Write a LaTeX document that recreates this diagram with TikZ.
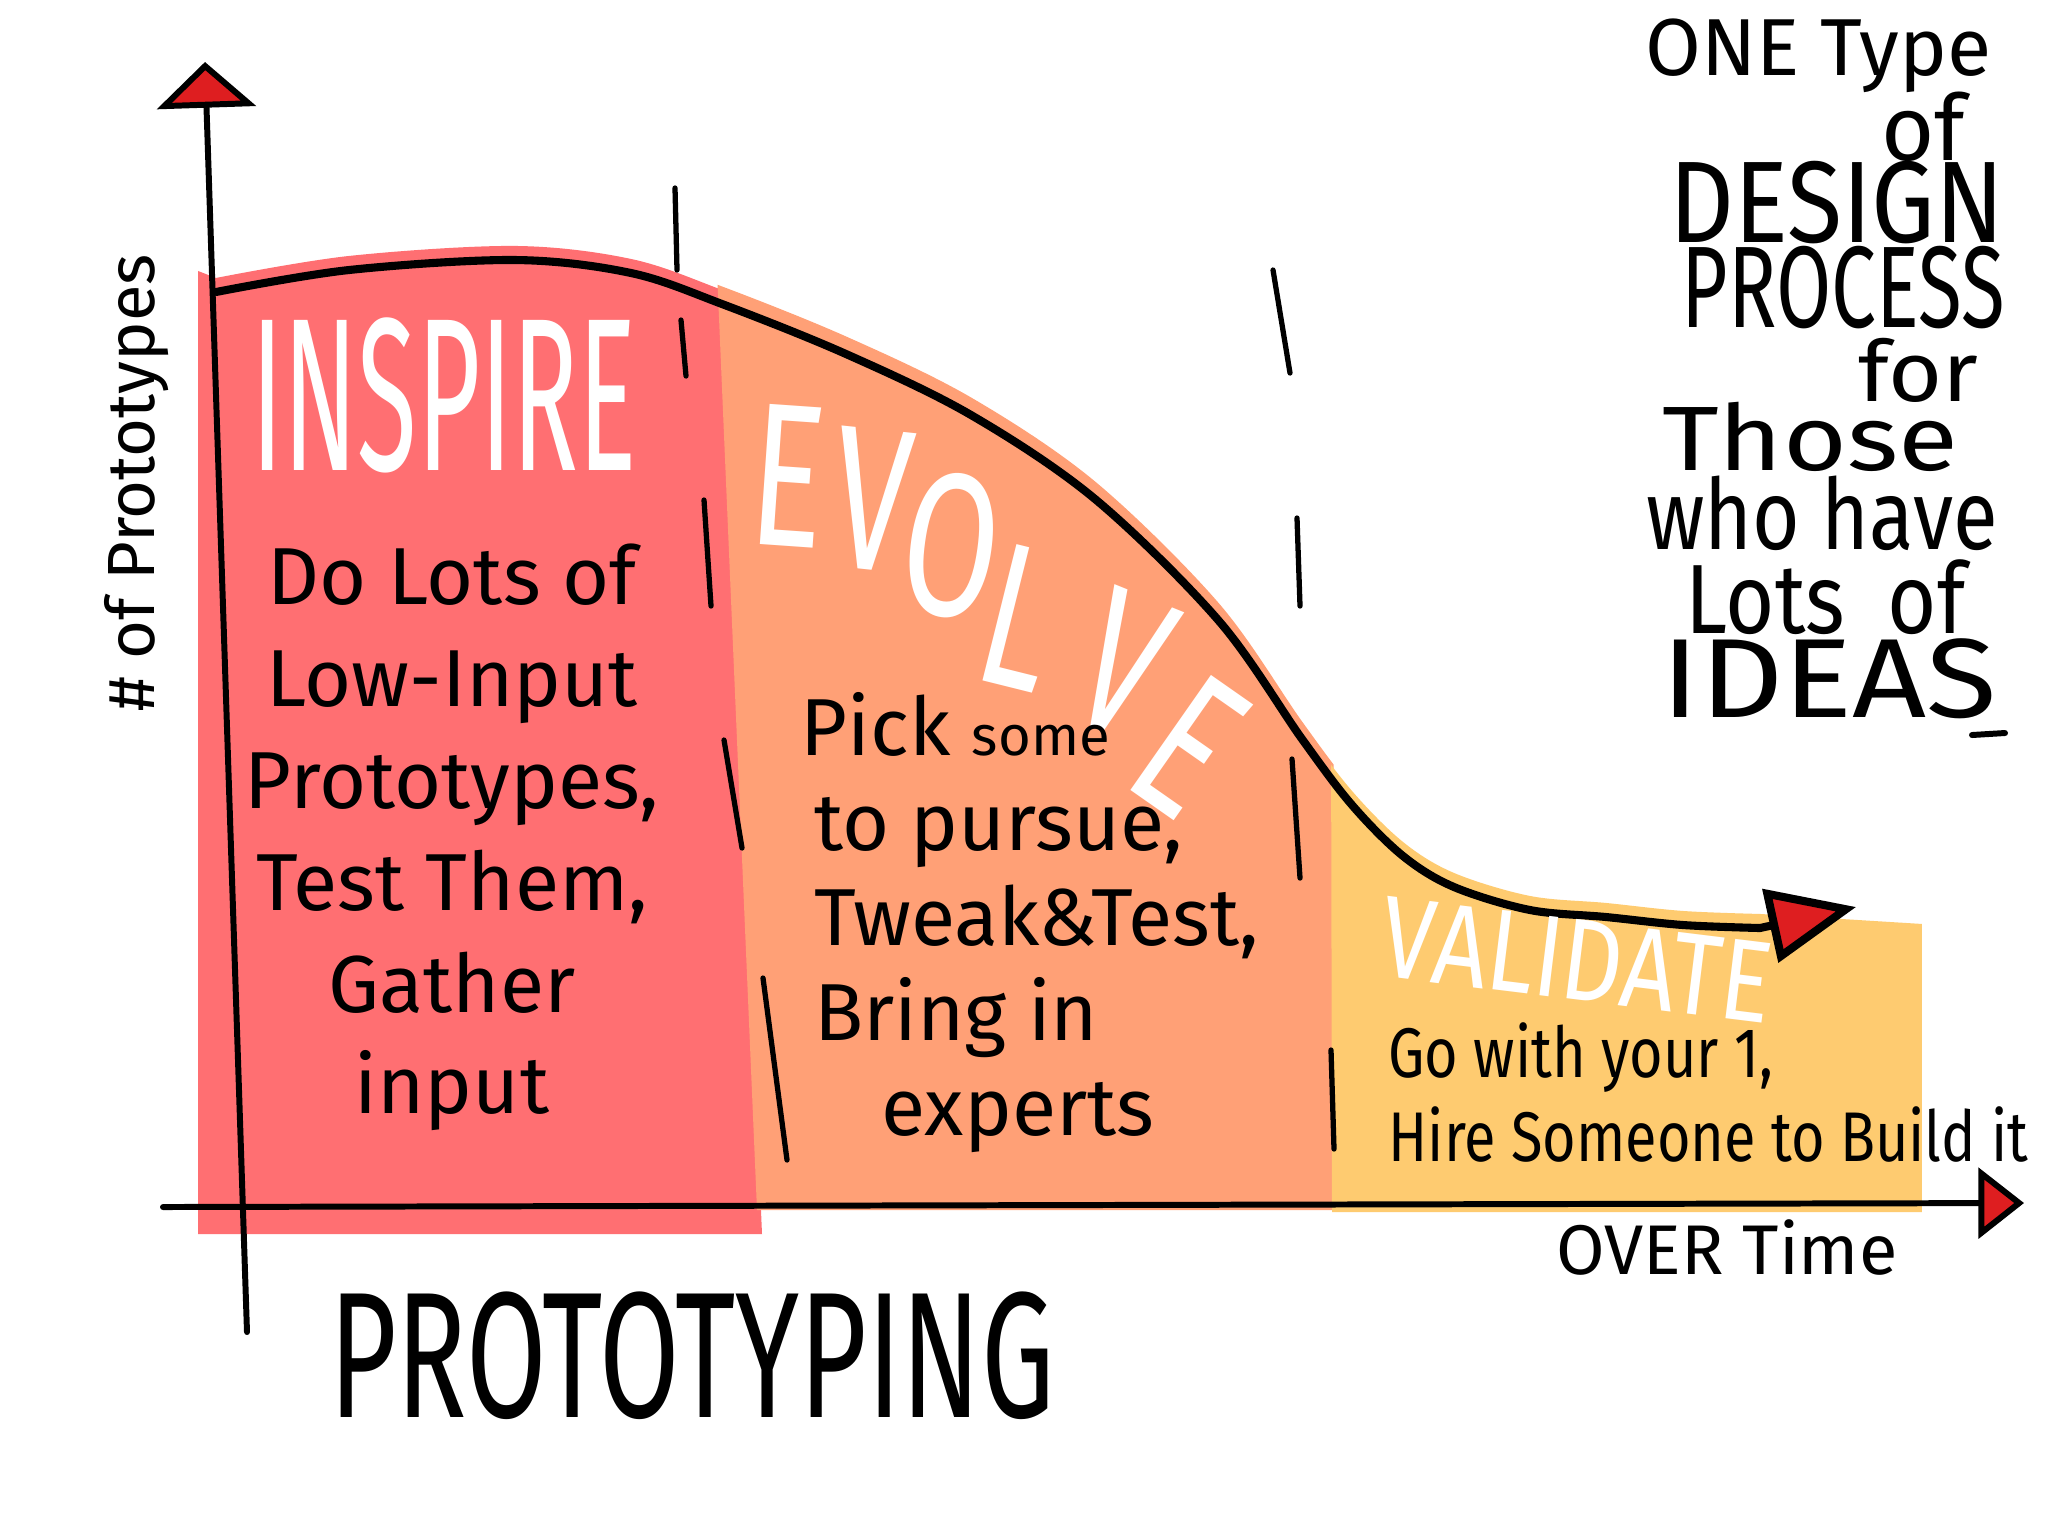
\documentclass[tikz,border=0pt]{standalone}
\usepackage{fontspec}
\setmainfont{Fira Sans}
\usepackage{tikz}
\usetikzlibrary{arrows.meta}
\definecolor{inspirered}{RGB}{255,111,114}
\definecolor{evolvesalmon}{RGB}{255,160,118}
\definecolor{validateyellow}{RGB}{254,203,112}
\definecolor{arrowred}{RGB}{222,30,32}
\newcommand{\profilecurve}{-- plot[smooth,tension=0.55] coordinates {(216,292) (349,270) (515,260) (631,273) (722,304) (846,354) (971,415) (1095,499) (1219,621) (1302,739) (1352,805) (1403,856) (1454,887) (1530,910) (1606,917) (1683,925) (1760,928)}}

\begin{document}
\begin{tikzpicture}[x=0.1mm, y=-0.1mm,
    axisline/.style={line width=1.7pt, line cap=round},
    curveline/.style={line width=2.3pt, line cap=round, line join=round},
    sepline/.style={line width=1.5pt, line cap=round},
    bandtitle/.style={text=white, inner sep=0pt},
    scribble/.style={inner sep=0pt}]
        \path[fill=white, use as bounding box] (0,0) rectangle (2048,1536);
        \begin{scope}
          \clip (190,200) -- (718,200) -- (762,1234) -- (190,1234) -- cycle;
          \fill[inspirered, yshift=4pt] (198,1300) -- (198,285) \profilecurve -- (1922,938) -- (1922,1300) -- cycle;
        \end{scope}
        \begin{scope}
          \clip (714,200) -- (1332,200) -- (1335,1210) -- (757,1210) -- cycle;
          \fill[evolvesalmon, yshift=5pt] (198,1300) -- (198,285) \profilecurve -- (1922,938) -- (1922,1300) -- cycle;
        \end{scope}
        \begin{scope}
          \clip (1330,200) -- (1922,200) -- (1922,1212) -- (1332,1212) -- cycle;
          \fill[validateyellow, yshift=4pt] (198,1300) -- (198,285) \profilecurve -- (1922,938) -- (1922,1300) -- cycle;
        \end{scope}
        \foreach \xa/\ya/\xb/\yb in {675/188/677/270, 681/320/686/376, 704/500/711/606, 724/740/742/848, 763/978/787/1160, 1273/270/1290/373, 1297/518/1300/606, 1292/759/1300/878, 1331/1050/1334/1149}
          \draw [sepline] (\xa,\ya) -- (\xb,\yb);
        \coordinate (ybase) at (247,1332);
        \coordinate (ytop) at (205,62);
        \coordinate (xbase) at (163,1207);
        \coordinate (xtip) at (2024,1203);
        \coordinate (curvestart) at (216,292);
        \coordinate (curvetip) at (1856,907);
        \draw [axisline, -{Triangle[width=28pt,length=13pt,fill=arrowred]}] (ybase) -- (ytop);
        \draw [axisline, -{Triangle[width=20pt,length=13pt,fill=arrowred]}] (xbase) -- (xtip);
        \draw [curveline, -{Triangle[width=21pt,length=25pt,fill=arrowred]}] (curvestart) \profilecurve -- (curvetip);
        \node (inspire) at (444,395) [bandtitle, font=\fontsize{62}{62}\selectfont, xscale=0.5] {INSPIRE};
        \foreach \ch/\cx/\cy/\ang [count=\i] in {E/788/476/-4, V/872/500/-6, O/952/546/-8, L/1020/618/-14, V/1124/664/-22, E/1190/746/-35}
          \node (evolve\i) at (\cx,\cy) [bandtitle, font=\fontsize{58}{58}\selectfont, rotate=\ang, xscale=0.68] {\ch};
        \node (validate) at (1577,960) [bandtitle, font=\fontsize{33}{33}\selectfont, rotate=-7, xscale=0.82] {VALIDATE};
        \node (inspirenote) at (452,543) [scribble, anchor=north, align=center, font=\fontsize{23}{29}\selectfont] {Do Lots of\\Low-Input\\Prototypes,\\Test Them,\\Gather\\input};
        \node (evolvenote) at (800,692) [scribble, anchor=north west, align=left, font=\fontsize{23}{27}\selectfont] {Pick {\fontsize{16}{27}\selectfont some}\\\,to pursue,\\\,Tweak\&Test,\\\,Bring in\\\quad experts};
        \node (validatenote) at (1388,1022) [scribble, anchor=north west, align=left, font=\fontsize{20}{24}\selectfont, xscale=0.82] {Go with your 1,\\Hire Someone to Build it};
        \node (ylabel) at (137,483) [rotate=90, font=\fontsize{19}{19}\selectfont] {\# of Prototypes};
        \node (xlabel) at (1727,1247) [font=\fontsize{20}{20}\selectfont] {OVER Time};
        \node (prototyping) at (692,1417) [scribble, anchor=base, font=\fontsize{51}{51}\selectfont, xscale=0.65] {PROTOTYPING};
        \foreach \txt/\yy/\sz/\xs/\xx [count=\i] in {ONE Type/56/23/1/1992, of/127/26/1/1966, DESIGN/203/33/0.87/2005, PROCESS/288/33/0.69/2005, for/370/24/1.1/1979, Those/437/26/1.2/1959, who have/513/28/0.83/1998, Lots\enspace of/597/28/0.86/1966, IDEAS/679/32/1.15/1998}
          \node (process\i) at (\xx,\yy) [scribble, anchor=east, font=\fontsize{\sz}{\sz}\selectfont, xscale=\xs] {\txt};
        \draw [axisline] (1972,735) -- (2005,733);
      \end{tikzpicture}
\end{document}
